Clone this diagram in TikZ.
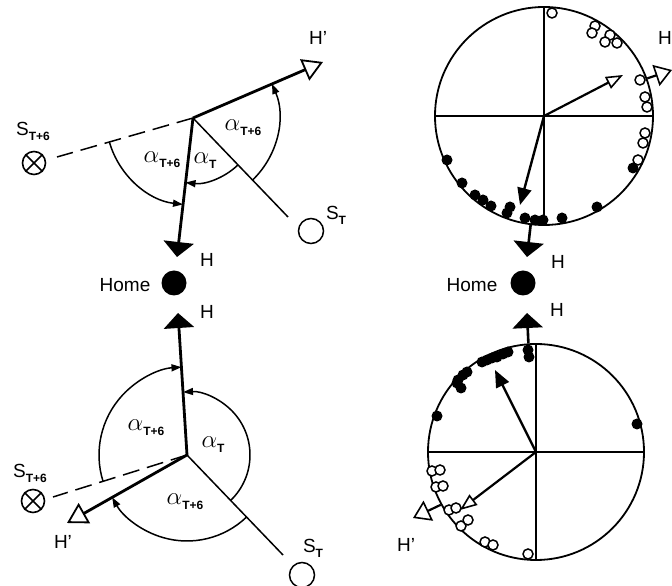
\documentclass[tikz,border=0pt]{standalone}
\usepackage{fontspec}
\setmainfont{Liberation Sans}
\usetikzlibrary{arrows.meta,calc}
\newcommand\alab[1]{{\fontsize{25}{25}\selectfont$\alpha$}\raisebox{-5pt}{\fontsize{12}{12}\selectfont\bfseries #1}}
\newcommand\slab[1]{{\fontsize{19}{19}\selectfont S}\raisebox{-5pt}{\fontsize{12}{12}\selectfont\bfseries #1}}
\begin{document}
\begin{tikzpicture}[x=1pt,y=1pt,
  thinln/.style={line width=1.5pt},
  arcln/.style={line width=1.5pt,-{Triangle[length=10pt,width=7pt]}},
  dashln/.style={line width=1.5pt,dash pattern=on 17pt off 8pt},
  harrow/.style={line width=2.8pt,-{Triangle[length=15pt,width=30pt]}},
  hparrow/.style={line width=2.8pt,-{Triangle[open,fill=white,length=20pt,width=23pt,line width=1.8pt]}},
  oparrow/.style={line width=2.2pt,-{Triangle[open,fill=white,length=17pt,width=13pt,line width=1.6pt]}},
  farrow/.style={line width=2.4pt,-{Triangle[length=17pt,width=14pt]}},
  shp/.style={line width=2.2pt,-{Triangle[open,fill=white,length=17pt,width=22pt,line width=1.6pt]}},
  sun/.style={circle,draw,line width=1.5pt,minimum size=25pt,inner sep=0pt},
  xsun/.style={circle,draw,line width=1.6pt,minimum size=23pt,inner sep=0pt},
  homedot/.style={circle,fill,minimum size=25pt,inner sep=0pt},
  ring/.style={circle,draw,line width=1.8pt,inner sep=0pt},
  odot/.style={circle,draw,fill=white,line width=1.5pt,minimum size=10pt,inner sep=0pt},
  fdot/.style={circle,fill,minimum size=11pt,inner sep=0pt},
  lbl/.style={font=\fontsize{19}{19}\selectfont,inner sep=0pt}
]
\useasboundingbox (0,0) rectangle (672,586);

% ---------- top left ----------
\coordinate (V1) at (193,468);
\coordinate (HP1) at (323,524);
\coordinate (H1) at (177,329);
\coordinate (ST1e) at (288,369);
\coordinate (D1) at (57,429);
\node[sun] (S1) at (311,355) {};
\node[xsun] (X1) at (34,423) {};
\draw[thinln] (X1.north west) -- (X1.south east) (X1.north east) -- (X1.south west);
\draw[thinln] (V1) -- (ST1e);
\draw[dashln] (V1) -- (D1);
\draw[harrow] (V1) -- (H1);
\draw[hparrow] (V1) -- (HP1);
\draw[arcln] ($(V1)+(-46.2:65)$) arc[start angle=-46.2,end angle=-96.6,radius=65];
\draw[arcln] ($(V1)+(-46.2:86)$) arc[start angle=-46.2,end angle=23.3,radius=86];
\draw[arcln] ($(V1)+(196:87)$) arc[start angle=196,end angle=263.4,radius=87];
\node[inner sep=0pt] (a1) at (243,458) {\alab{T+6}};
\node[inner sep=0pt] (a2) at (162,426) {\alab{T+6}};
\node[inner sep=0pt] (a3) at (205,425) {\alab{T}};
\node[inner sep=0pt] (s1l) at (336,371) {\slab{T}};
\node[inner sep=0pt] (s2l) at (33,455) {\slab{T+6}};
\node[lbl] (hp1l) at (318,548) {H’};
\node[lbl] (h1l) at (207,326) {H};

% ---------- home left ----------
\node[homedot] (home1) at (174,303) {};
\node[lbl] (home1t) at (125,301) {Home};

% ---------- bottom left ----------
\coordinate (V2) at (187,131);
\coordinate (H2) at (178,273);
\coordinate (ST2e) at (283,31);
\coordinate (HP2) at (67,63);
\coordinate (D2) at (53,89);
\node[sun] (S2) at (302,11) {};
\node[xsun] (X2) at (33,85) {};
\draw[thinln] (X2.north west) -- (X2.south east) (X2.north east) -- (X2.south west);
\draw[thinln] (V2) -- (ST2e);
\draw[dashln] (V2) -- (D2);
\draw[harrow] (V2) -- (H2);
\draw[hparrow] (V2) -- (HP2);
\draw[arcln] ($(V2)+(-46.2:63)$) arc[start angle=-46.2,end angle=93.6,radius=63];
\draw[arcln] ($(V2)+(197.4:88)$) arc[start angle=197.4,end angle=93.6,radius=88];
\draw[arcln] ($(V2)+(-46.2:86)$) arc[start angle=-46.2,end angle=-150.5,radius=86];
\node[inner sep=0pt] (b1) at (146,158) {\alab{T+6}};
\node[inner sep=0pt] (b2) at (213,141) {\alab{T}};
\node[inner sep=0pt] (b3) at (185,84) {\alab{T+6}};
\node[inner sep=0pt] (s3l) at (313,38) {\slab{T}};
\node[inner sep=0pt] (s4l) at (30,113) {\slab{T+6}};
\node[lbl] (hp2l) at (63,44) {H’};
\node[lbl] (h2l) at (207,274) {H};

% ---------- top right ----------
\node[ring,minimum size=218pt] (K1) at (544,470) {};
\draw[thinln] (K1.west) -- (K1.east) (K1.north) -- (K1.south);
\coordinate (OA1) at (623,511);
\coordinate (FA1) at (520,381);
\coordinate (HPR1) at (672,516);
\coordinate (HR1) at (527,329);
\foreach \p [count=\i] in {(552,573),(595,560),(592,553),(610,551),(605,544),(617,543),(640,506),(645,489),(647,479),(645,453),(643,443),(638,426)}
  \node[odot] (o1-\i) at \p {};
\foreach \p [count=\i] in {(447,426),(462,403),(475,391),(483,386),(491,380),(510,379),(507,373),(525,368),(535,366),(543,366),(562,368),(597,379),(633,418)}
  \node[fdot] (f1-\i) at \p {};
\draw[oparrow] (K1.center) -- (OA1);
\draw[farrow] (K1.center) -- (FA1);
\draw[shp] (K1.20.6) -- (HPR1);
\draw[harrow,line width=2.6pt] (K1.-97.5) -- (HR1);
\node[lbl] (hr1l) at (558,324) {H};
\node[lbl] (hpr1l) at (665,548) {H};

% ---------- home right ----------
\node[homedot] (home2) at (523,303) {};
\node[lbl] (home2t) at (472,301) {Home};

% ---------- bottom right ----------
\node[ring,minimum size=216pt] (K2) at (536,134) {};
\draw[thinln] (K2.west) -- (K2.east) (K2.north) -- (K2.south);
\coordinate (OA2) at (460,76);
\coordinate (FA2) at (495,216);
\coordinate (HPR2) at (413,68);
\coordinate (HR2) at (527,273);
\foreach \p [count=\i] in {(432,115),(440,116),(436,99),(443,100),(449,76),(456,78),(461,60),(468,66),(485,44),(493,41),(528,32)}
  \node[odot] (o2-\i) at \p {};
\foreach \p [count=\i] in {(528,236),(529,229),(508,234),(503,232),(497,229),(492,228),(487,226),(482,224),(467,214),(463,211),(458,206),(457,203),(461,198),(437,170),(637,162)}
  \node[fdot] (f2-\i) at \p {};
\draw[farrow] (K2.center) -- (FA2);
\draw[oparrow] (K2.center) -- (OA2);
\draw[shp] (K2.209.8) -- (HPR2);
\draw[harrow,line width=2.6pt] (K2.94.8) -- (HR2);
\node[lbl] (hr2l) at (557,276) {H};
\node[lbl] (hpr2l) at (406,41) {H’};
\end{tikzpicture}
\end{document}
